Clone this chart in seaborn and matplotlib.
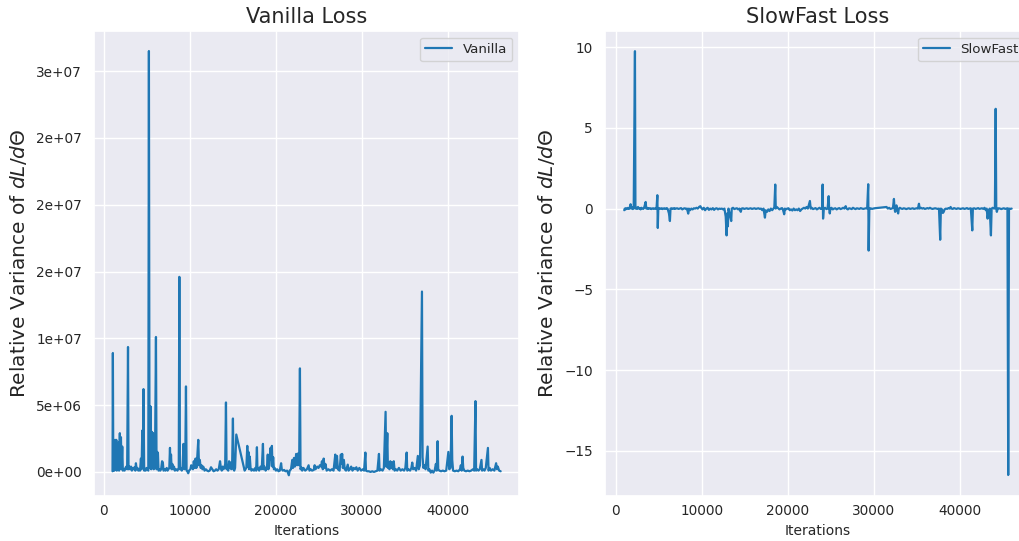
import numpy as np
import matplotlib.pyplot as plt
import seaborn as sns
from matplotlib.ticker import FormatStrFormatter

# Vanilla loss: relative variance (values in millions)
vanilla_iter = [
    1000, 1040, 1090, 1160, 1220, 1300, 1360, 1440, 1500, 1560,
    1620, 1700, 1760, 1850, 1900, 1980, 2040, 2130, 2200, 2300,
    2400, 2500, 2600, 2700, 2800, 2860, 2950, 3050, 3150, 3250,
    3350, 3450, 3550, 3650, 3720, 3800, 3900, 4000, 4100, 4200,
    4300, 4380, 4460, 4530, 4600, 4680, 4760, 4850, 4950, 5050,
    5160, 5230, 5300, 5430, 5500, 5580, 5650, 5720, 5790, 5860,
    5930, 6050, 6120, 6200, 6280, 6350, 6450, 6550, 6650, 6760,
    6850, 6930, 7050, 7150, 7300, 7400, 7500, 7600, 7680, 7740,
    7800, 7870, 7950, 8050, 8150, 8250, 8400, 8550, 8700, 8770,
    8840, 8950, 9050, 9150, 9250, 9330, 9450, 9540, 9610, 9700,
    9800, 9900, 10050, 10150, 10250, 10350, 10450, 10550, 10650, 10750,
    10860, 10970, 11050, 11150, 11250, 11350, 11450, 11550, 11700, 11850,
    12000, 12150, 12300, 12450, 12600, 12750, 12900, 13050, 13200, 13350,
    13500, 13600, 13700, 13800, 13900, 14000, 14100, 14190, 14260, 14350,
    14450, 14550, 14620, 14700, 14800, 14900, 15000, 15070, 15150, 15250,
    15390, 16360, 16450, 16560, 16670, 16740, 16800, 16880, 16960, 17050,
    17150, 17300, 17450, 17600, 17700, 17790, 17850, 17950, 18050, 18200,
    18350, 18490, 18560, 18650, 18800, 18950, 19050, 19120, 19250, 19380,
    19450, 19530, 19600, 19680, 19760, 19850, 20000, 20150, 20300, 20450,
    20600, 20680, 20800, 20950, 21100, 21300, 21500, 21600, 21750, 21900,
    21980, 22100, 22200, 22350, 22450, 22600, 22700, 22790, 22860, 22950,
    23050, 23200, 23400, 23600, 23800, 23900, 24050, 24200, 24400, 24500,
    24600, 24800, 24950, 25100, 25250, 25350, 25450, 25550, 25650, 25750,
    25900, 26100, 26300, 26500, 26700, 26900, 26980, 27100, 27200, 27400,
    27550, 27620, 27700, 27780, 27900, 28000, 28150, 28350, 28450, 28600,
    28750, 28900, 29050, 29200, 29350, 29500, 29700, 29900, 30100, 30250,
    30400, 30470, 30600, 30800, 31000, 31200, 31400, 31600, 31800, 31980,
    32050, 32200, 32400, 32550, 32750, 32820, 32950, 33020, 33100, 33200,
    33300, 33400, 33500, 33600, 33700, 33800, 33950, 34100, 34300, 34500,
    34700, 34900, 35050, 35200, 35270, 35400, 35600, 35750, 35850, 35950,
    36100, 36300, 36500, 36600, 36750, 36980, 37050, 37150, 37250, 37400,
    37640, 37720, 37850, 38000, 38150, 38300, 38450, 38600, 38700, 38800,
    38870, 39000, 39200, 39400, 39600, 39800, 40050, 40150, 40300, 40430,
    40500, 40600, 40800, 41000, 41200, 41400, 41500, 41600, 41700, 41780,
    41900, 42100, 42300, 42500, 42700, 42900, 43050, 43200, 43270, 43400,
    43550, 43700, 43900, 43970, 44100, 44250, 44400, 44650, 44720, 44850,
    45000, 45200, 45400, 45600, 45700, 45800, 45950, 46130,
]
vanilla_var_millions = [
    0.05, 8.9, 0.1, 2.3, 0.1, 2.4, 0.3, 2.4, 0.1, 1.4,
    0.2, 2.2, 0.1, 2.9, 0.4, 2.6, 0.2, 1.9, 0.1, 0.2,
    0.1, 0.3, 0.4, 0.2, 9.35, 0.2, 0.4, 0.2, 0.4, 0.1,
    0.3, 0.2, 0.35, 0.1, 0.65, 0.2, 0.3, 0.1, 0.2, 0.1,
    1.0, 0.2, 3.1, 0.3, 6.2, 0.1, 0.2, 0.1, 0.3, 0.2,
    0.1, 31.5, 0.3, 4.9, 0.2, 3.0, 2.8, 2.9, 0.2, 1.5,
    0.3, 10.1, 0.2, 1.5, 1.4, 0.1, 0.2, 0.1, 0.2, 0.8,
    0.7, 0.1, 0.2, 0.1, 0.3, 0.1, 0.2, 0.3, 1.8, 0.3,
    1.3, 0.2, 0.6, 0.2, 0.4, 0.1, 0.2, 0.1, 0.3, 14.6,
    0.2, 0.3, 0.1, 0.4, 2.1, 0.2, 0.3, 6.4, 0.1, 0.05,
    -0.1, 0.1, 0.2, 0.5, 0.4, 0.2, 0.8, 0.3, 1.0, 0.3,
    1.2, 2.4, 0.5, 0.9, 0.3, 0.5, 0.2, 0.4, 0.1, 0.2,
    0.1, 0.05, 0.1, 0.35, 0.2, 0.05, 0.1, 0.2, 0.1, 0.2,
    0.8, 0.3, 0.1, 0.4, 0.2, 0.3, 0.6, 5.2, 0.2, 0.4,
    0.1, 0.8, 0.3, 0.7, 0.2, 0.3, 4.0, 0.2, 0.1, 0.3,
    2.8, 0.1, 0.2, 0.3, 1.95, 0.4, 1.5, 0.2, 1.15, 0.3,
    0.1, 0.2, 0.1, 0.3, 0.1, 1.85, 0.2, 0.3, 0.1, 0.4,
    0.2, 2.1, 0.2, 0.4, 0.1, 0.3, 1.3, 0.2, 0.5, 1.8,
    0.9, 1.95, 0.4, 1.1, 0.2, 0.3, 0.1, 0.2, 0.05, 0.1,
    0.65, 0.2, 0.1, 0.15, 0.05, 0.1, -0.25, 0.1, 0.2, 0.9,
    0.3, 1.05, 0.4, 1.35, 0.5, 1.4, 0.5, 7.75, 0.2, 0.35,
    0.1, 0.3, 0.1, 0.2, 0.5, 0.1, 0.2, 0.1, 0.15, 0.5,
    0.2, 0.4, 0.3, 0.5, 0.4, 0.8, 0.2, 1.0, 0.3, 0.6,
    0.1, 0.2, 0.1, 0.2, 0.1, 1.3, 0.3, 1.2, 0.2, 0.1,
    1.3, 0.6, 1.35, 0.3, 0.9, 0.2, 0.1, 0.55, 0.1, 0.2,
    0.4, 0.1, 0.3, 0.2, 0.35, 0.1, 0.3, 0.1, 0.2, 0.1,
    1.45, 0.1, 0.05, 0.05, 0.0, 0.05, 0.0, 0.05, 0.1, 1.35,
    0.1, 0.2, 0.1, 0.3, 4.5, 0.4, 2.9, 0.3, 0.7, 0.2,
    0.8, 0.3, 0.7, 0.2, 0.8, 0.1, 0.2, 0.1, 0.3, 0.1,
    0.2, 0.1, 0.3, 1.45, 0.1, 0.2, 0.1, 0.3, 0.7, 0.2,
    0.3, 0.1, 1.2, 0.2, 0.5, 13.5, 1.1, 0.3, 0.5, 0.2,
    1.9, 0.1, 0.2, -0.05, 0.1, -0.05, 0.1, 0.6, 0.1, 2.3,
    0.2, 0.1, 0.05, 0.1, 0.05, 0.1, 1.5, 0.2, 0.3, 4.2,
    0.9, 0.1, 0.05, 0.1, 0.05, 0.2, 0.5, 0.1, 1.15, 0.3,
    0.1, 0.05, 0.1, 0.05, 0.1, 0.2, 0.1, 5.3, 0.1, 0.2,
    0.1, 0.2, 0.9, 0.1, 0.2, 0.1, 0.3, 1.8, 0.1, 0.3,
    0.1, 0.2, 0.1, 0.65, 0.2, 0.4, 0.1, 0.05,
]

# SlowFast loss: relative variance
slowfast_iter = [
    1000, 1060, 1120, 1200, 1280, 1360, 1450, 1550, 1650, 1740,
    1800, 1900, 2000, 2100, 2245, 2300, 2400, 2500, 2600, 2700,
    2800, 2900, 3000, 3100, 3200, 3300, 3490, 3560, 3650, 3750,
    3850, 3950, 4050, 4150, 4250, 4350, 4450, 4550, 4650, 4750,
    4850, 4900, 4960, 5050, 5150, 5250, 5350, 5450, 5550, 5650,
    5750, 5850, 5950, 6050, 6200, 6310, 6380, 6500, 6600, 6700,
    6800, 6900, 7000, 7150, 7300, 7450, 7600, 7750, 7900, 8050,
    8200, 8300, 8440, 8520, 8650, 8800, 8950, 9100, 9250, 9400,
    9550, 9700, 9850, 9950, 10100, 10250, 10400, 10550, 10700, 10850,
    11000, 11150, 11300, 11450, 11600, 11750, 11900, 12050, 12200, 12350,
    12500, 12650, 12800, 12900, 12980, 13050, 13120, 13250, 13440, 13500,
    13650, 13800, 13950, 14100, 14250, 14400, 14550, 14650, 14800, 14950,
    15100, 15250, 15400, 15550, 15700, 15850, 16000, 16150, 16300, 16450,
    16600, 16750, 16900, 17050, 17200, 17360, 17450, 17600, 17750, 17900,
    18050, 18200, 18350, 18450, 18560, 18620, 18750, 18900, 19050, 19200,
    19350, 19450, 19600, 19680, 19800, 19950, 20100, 20250, 20400, 20550,
    20700, 20850, 21000, 21150, 21300, 21450, 21600, 21750, 21900, 22050,
    22200, 22350, 22450, 22590, 22680, 22800, 22950, 23100, 23250, 23400,
    23550, 23700, 23850, 24000, 24070, 24120, 24200, 24350, 24500, 24650,
    24770, 24830, 24900, 24980, 25100, 25250, 25400, 25550, 25700, 25850,
    26000, 26150, 26300, 26450, 26600, 26750, 26850, 27000, 27150, 27300,
    27450, 27600, 27750, 27900, 28050, 28200, 28350, 28500, 28650, 28800,
    28950, 29100, 29250, 29370, 29420, 29500, 29650, 29800, 29950, 30100,
    31500, 31650, 31800, 31950, 32100, 32250, 32360, 32430, 32500, 32580,
    32650, 32730, 32850, 32930, 33050, 33200, 33350, 33500, 33650, 33800,
    33950, 34100, 34250, 34400, 34550, 34700, 34850, 35000, 35150, 35270,
    35350, 35500, 35650, 35800, 35950, 36100, 36250, 36400, 36550, 36700,
    36850, 37000, 37150, 37300, 37450, 37600, 37740, 37820, 37950, 38050,
    38150, 38250, 38400, 38550, 38700, 38850, 38950, 39050, 39200, 39350,
    39500, 39650, 39800, 39950, 40100, 40250, 40400, 40550, 40700, 40850,
    41000, 41150, 41300, 41470, 41540, 41700, 41850, 42000, 42150, 42300,
    42450, 42600, 42750, 42900, 43050, 43150, 43250, 43350, 43500, 43640,
    43720, 43850, 44000, 44100, 44190, 44260, 44330, 44420, 44550, 44700,
    44850, 45000, 45150, 45300, 45450, 45560, 45650, 45740, 45850, 46050,
]
slowfast_var = [
    -0.1, 0.0, -0.05, 0.02, -0.03, 0.0, 0.05, -0.02, 0.05, 0.27,
    0.0, 0.1, -0.03, 0.02, 9.75, 0.0, 0.05, -0.02, 0.1, 0.0,
    0.03, -0.05, 0.05, 0.0, -0.02, 0.03, 0.41, 0.0, 0.05, -0.02,
    0.03, 0.0, 0.02, -0.03, 0.0, 0.02, -0.02, 0.0, 0.03, -0.02,
    0.83, -1.2, 0.0, 0.03, -0.02, 0.0, 0.02, -0.03, 0.0, 0.02,
    -0.02, 0.0, 0.03, -0.02, -0.3, -0.77, 0.0, 0.02, -0.02, 0.0,
    0.03, -0.02, 0.0, 0.02, -0.02, 0.0, 0.03, -0.05, 0.0, 0.02,
    -0.03, 0.0, -0.31, 0.0, -0.1, 0.0, -0.05, 0.02, 0.0, 0.05,
    0.0, 0.1, 0.15, 0.05, -0.05, 0.05, -0.1, 0.0, 0.05, -0.08,
    0.0, -0.05, 0.03, -0.08, 0.0, 0.02, -0.05, 0.0, -0.02, 0.0,
    -0.05, 0.0, -0.5, -1.66, -0.3, -1.1, 0.0, -0.3, -0.77, 0.0,
    0.05, -0.03, 0.0, 0.02, -0.05, 0.0, -0.2, 0.0, 0.02, -0.02,
    0.0, 0.02, -0.02, 0.0, 0.02, -0.02, 0.0, 0.02, -0.02, 0.0,
    0.02, -0.02, 0.0, -0.1, 0.0, -0.56, -0.1, -0.2, -0.05, -0.15,
    0.0, -0.1, 0.0, 0.05, 1.49, 0.0, 0.1, 0.02, -0.05, 0.0,
    0.03, -0.05, -0.35, 0.0, -0.05, 0.0, 0.02, -0.1, -0.05, -0.12,
    0.0, -0.1, -0.05, -0.1, 0.0, -0.15, -0.05, 0.0, 0.05, 0.0,
    0.1, 0.0, 0.2, 0.47, 0.0, 0.05, -0.03, 0.0, 0.03, -0.05,
    0.0, 0.05, -0.02, 0.0, 1.49, -0.62, 0.0, 0.05, -0.03, 0.0,
    0.77, 0.0, -0.3, 0.0, 0.05, -0.05, 0.0, 0.02, -0.05, 0.0,
    0.03, -0.03, 0.0, 0.05, 0.0, 0.15, 0.0, -0.05, 0.02, 0.0,
    -0.03, 0.05, 0.0, -0.03, 0.02, 0.0, -0.02, 0.03, 0.0, -0.02,
    0.0, 0.02, 0.0, 1.51, -2.6, 0.0, 0.02, -0.02, 0.0, 0.02,
    0.1, 0.0, 0.05, -0.02, 0.0, 0.05, 0.6, 0.0, -0.2, 0.0,
    0.2, -0.05, -0.3, 0.0, 0.05, 0.0, -0.02, 0.02, 0.0, -0.03,
    0.0, 0.02, -0.02, 0.0, 0.02, -0.02, 0.0, 0.02, 0.0, 0.3,
    0.0, 0.05, 0.0, 0.03, -0.02, 0.0, 0.03, 0.0, 0.05, 0.0,
    -0.02, 0.0, 0.02, 0.0, -0.02, 0.0, -1.93, 0.0, -0.05, -0.27,
    -0.2, -0.05, 0.0, -0.02, 0.03, 0.0, 0.1, 0.0, -0.02, 0.03,
    0.0, -0.02, 0.02, 0.0, -0.02, 0.0, 0.02, -0.02, 0.0, 0.03,
    -0.02, 0.0, 0.02, -1.35, 0.0, 0.02, -0.02, 0.0, 0.03, -0.02,
    0.0, 0.02, -0.02, 0.05, -0.1, 0.0, -0.62, -0.2, 0.0, -1.66,
    0.0, 0.05, 0.0, 0.02, 6.18, 0.0, -0.2, 0.0, 0.02, 0.0,
    -0.03, 0.0, 0.02, -0.02, 0.0, 0.02, -16.5, 0.0, -0.02, 0.0,
]

sns.set_theme(style='darkgrid')
plt.rcParams['font.family'] = ['DejaVu Sans']

fig = plt.figure(figsize=(10.19, 5.41), dpi=100)
# the right panel runs past the figure edge, as in the original image
ax1 = fig.add_axes([0.0922, 0.0832, 0.4171, 0.8595])
ax2 = fig.add_axes([0.5937, 0.0832, 0.4180, 0.8595])

line_color = '#1f77b4'
ylabel = r'Relative Variance of $dL/d\Theta$'

sns.lineplot(x=vanilla_iter, y=np.array(vanilla_var_millions) * 1e6, ax=ax1,
             color=line_color, linewidth=1.6, label='Vanilla')
ax1.set_title('Vanilla Loss', fontsize=15)
ax1.set_xlim(-1160, 48260)
ax1.set_ylim(-1.8e6, 33.0e6)
ax1.yaxis.set_major_formatter(FormatStrFormatter('%.0e'))

sns.lineplot(x=slowfast_iter, y=slowfast_var, ax=ax2,
             color=line_color, linewidth=1.6, label='SlowFast')
ax2.set_title('SlowFast Loss', fontsize=15)
ax2.set_xlim(-1240, 48290)
ax2.set_ylim(-17.8, 11.0)

for ax in (ax1, ax2):
    ax.set_xlabel('Iterations', fontsize=10, labelpad=4)
    ax.set_ylabel(ylabel, fontsize=14.5, labelpad=5)
    ax.tick_params(axis='both', labelsize=9.8, length=0)
    ax.tick_params(axis='x', pad=6)
    ax.tick_params(axis='y', pad=8.5)
    ax.legend(loc='upper right', fontsize=9.6)

fig.savefig('out.png', dpi=100)
